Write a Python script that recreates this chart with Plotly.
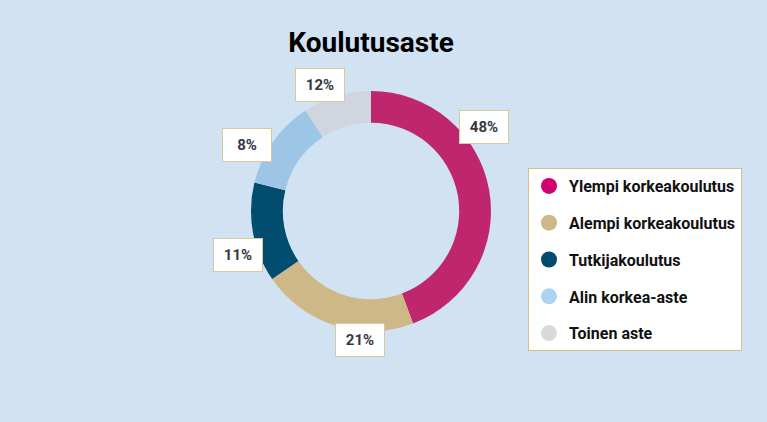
import math
import plotly.graph_objects as go

# Koulutusaste - osuudet (kaaren koko luettu kuvasta, tekstit kuten kuvassa)
categories = ['Ylempi korkeakoulutus', 'Alempi korkeakoulutus', 'Tutkijakoulutus',
              'Alin korkea-aste', 'Toinen aste']
slice_values = [44.3, 21.1, 13.4, 12.0, 9.2]
label_pct = [48, 21, 11, 8, 12]

slice_colors = ['#c0266e', '#cfb887', '#004d70', '#9dc6e6', '#d0d5df']
legend_colors = ['#d0006f', '#cfb887', '#004b70', '#acd3ef', '#d9d9d9']

W, H = 767, 422
cx, cy, rad = 371, 211, 120
bg = '#d1e3f3'
box_w, box_h = 46, 30

fig = go.Figure()

fig.add_trace(go.Pie(
    labels=categories,
    values=slice_values,
    hole=0.735,
    sort=False,
    direction='clockwise',
    rotation=0,
    marker=dict(colors=slice_colors, line=dict(width=0)),
    textinfo='none',
    hoverinfo='skip',
    showlegend=False,
    domain=dict(x=[(cx - rad) / W, (cx + rad) / W],
                y=[1 - (cy + rad) / H, 1 - (cy - rad) / H]),
))

# legenda pyoreilla merkeilla
for i, (name, col) in enumerate(zip(categories, legend_colors)):
    fig.add_trace(go.Scatter(
        x=[None], y=[None], mode='markers', name=name,
        legendgroup=str(i),
        marker=dict(size=16, color=col, symbol='circle'),
        hoverinfo='skip',
    ))

# arvolaatikot: noin kolmannes viipaleen alusta, renkaan reunalla
total = sum(slice_values)
acc = 0
for v, p in zip(slice_values, label_pct):
    ang = (acc + v / 3) / total * 2 * math.pi
    acc += v
    s, c = math.sin(ang), math.cos(ang)
    r_lab = 112 + abs(s) * (box_w / 2 + 1) + abs(c) * (box_h / 2 + 1)
    px = cx + r_lab * s
    py = cy - r_lab * c
    fig.add_annotation(
        x=px / W, y=1 - py / H, xref='paper', yref='paper',
        xanchor='center', yanchor='middle',
        text=f'<b>{p}%</b>', showarrow=False,
        width=box_w, height=box_h,
        bgcolor='white', bordercolor='#d9c89e', borderwidth=1,
        font=dict(family='Roboto', size=15, color='#363944'),
    )

fig.update_layout(
    width=W, height=H,
    margin=dict(l=0, r=0, t=0, b=0),
    paper_bgcolor=bg, plot_bgcolor=bg,
    font=dict(family='Roboto', color='#111111'),
    title=dict(text='<b>Koulutusaste</b>', x=cx / W, xanchor='center',
               y=1 - 42 / H, yanchor='middle',
               font=dict(family='Roboto', size=28, color='#000000')),
    xaxis=dict(visible=False),
    yaxis=dict(visible=False),
    legend=dict(
        x=528 / W, y=1 - 168 / H, xanchor='left', yanchor='top',
        bgcolor='white', bordercolor='#d4bf8a', borderwidth=1,
        font=dict(family='Roboto', size=16, color='#111111', weight='bold'),
        tracegroupgap=13, itemsizing='trace',
    ),
)

fig.write_html('out.html', config={'displayModeBar': False},
               post_script="document.body.style.margin='0';")
